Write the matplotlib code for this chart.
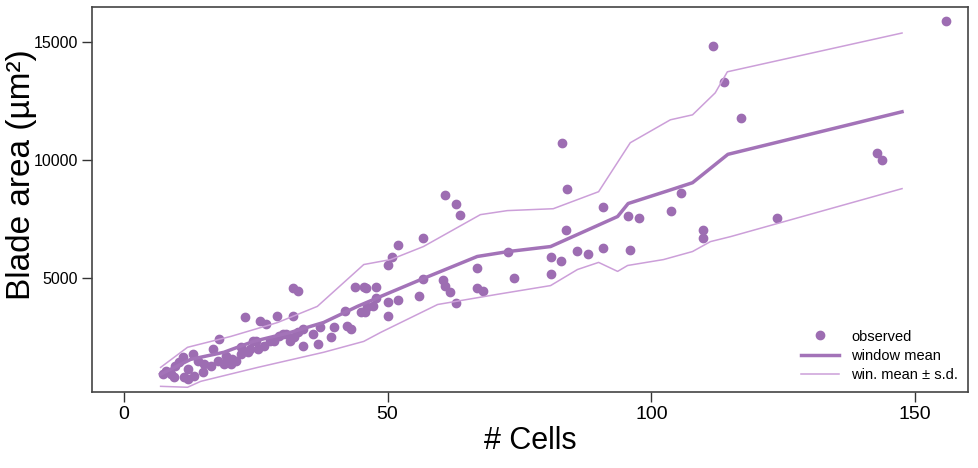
import matplotlib
matplotlib.use('Agg')
import matplotlib.pyplot as plt
import numpy as np

plt.rcParams['font.family'] = ['Liberation Sans', 'DejaVu Sans']

# observed leaves: number of cells vs blade area
cells = [155.9, 111.7, 113.8, 116.9, 142.8, 143.7,
         83.0, 84.0, 60.8, 62.9, 63.8, 90.9,
         105.7, 103.8, 97.7, 95.6, 109.8, 109.8, 123.9, 96.0,
         83.9, 72.9, 81.0, 82.8, 86.0, 87.9, 90.9, 73.9, 81.0,
         56.8, 51.9, 50.9, 50.0, 66.9, 56.8, 60.6, 60.8, 61.9, 66.9, 68.0,
         46.0, 47.9, 47.9, 50.0, 51.9, 56.0, 63.0, 47.2, 45.8, 50.0,
         32.0, 33.0, 43.9, 45.5, 22.9, 25.9, 26.9, 29.0, 32.0, 42.0, 44.9, 46.2,
         42.4, 43.0, 30.1, 33.9, 32.2, 37.3, 39.8, 39.2, 35.8, 33.9, 36.9,
         24.6, 27.8, 25.4, 23.5, 22.2,
         18.0, 17.0, 11.2, 13.1, 8.0, 8.9, 9.8, 11.4, 12.1, 14.0, 15.2, 16.5,
         17.8, 19.0, 20.6, 22.2, 24.0, 25.0, 26.5, 28.4, 29.4, 30.7, 31.6, 33.0,
         9.5, 13.3, 15.0, 20.3, 21.2, 12.1, 7.4, 10.4, 19.3]
area = [15890, 14830, 13310, 11790, 10320, 10020,
        10740, 8800, 8545, 8165, 7700, 8040,
        8630, 7870, 7570, 7660, 7070, 6730, 7570, 6220,
        7030, 6140, 5890, 5760, 6180, 6055, 6310, 5000, 5210,
        6730, 6435, 5890, 5550, 5460, 4960, 4920, 4700, 4410, 4580, 4450,
        4580, 4660, 4160, 3990, 4070, 4280, 3945, 3820, 3565, 3400,
        4580, 4450, 4620, 4620, 3354, 3185, 3060, 3396, 3396, 3607, 3565, 3776,
        2974, 2848, 2637, 2848, 2510, 2932, 2932, 2510, 2637, 2130, 2215,
        2341, 2341, 2004, 1877, 2088,
        2425, 2004, 1666, 1792, 1075, 949, 1286, 822, 1160, 1497, 1370, 1286,
        1497, 1370, 1582, 1792, 2004, 2341, 2130, 2341, 2552, 2637, 2341, 2721,
        822, 864, 1033, 1370, 1497, 738, 949, 1455, 1708]

# window mean and +/- s.d.
mean_x = [7, 12.7, 19, 24.6, 31.6, 37.9, 44.3, 48.7, 56.8, 67, 72.9, 80.9, 86,
          93.6, 95.6, 103, 107.8, 114.5, 147.5]
mean_y = [950, 1580, 1880, 2340, 2720, 3140, 3820, 4240, 5000, 5930, 6140, 6350, 6860,
          7620, 8170, 8700, 9050, 10250, 12050]
upper_x = [7, 12.1, 20.3, 29.2, 36.7, 45.5, 50.6, 56.8, 67.6, 72.7, 81.4, 90, 96,
           103.6, 107.8, 112.1, 114.4, 147.5]
upper_y = [1240, 2090, 2550, 3140, 3820, 5590, 5800, 6350, 7700, 7870, 7950, 8670, 10740,
           11710, 11920, 12850, 13740, 15380]
lower_x = [7, 12.1, 14.6, 25.4, 37.9, 45.5, 48.7, 59.5, 70.8, 80.9, 86, 90, 93.6,
           95.5, 102.3, 107.8, 111.2, 115, 147.5]
lower_y = [440, 400, 650, 1240, 1880, 2340, 2720, 3900, 4330, 4700, 5380, 5680, 5300,
           5550, 5800, 6140, 6560, 6770, 8800]

pt_col = '#9d6db2'
mean_col = '#a373b8'
sd_col = '#cc9fd9'

fig = plt.figure(figsize=(9.79, 4.68), dpi=100)
ax = fig.add_axes([92/979, 1-392/468, (968-92)/979, (392-7)/468])

ax.plot(cells, area, 'o', color=pt_col, ms=6, mec=pt_col, label='observed')
ax.plot(mean_x, mean_y, color=mean_col, lw=2.5, label='window mean')
ax.plot(upper_x, upper_y, color=sd_col, lw=1.1, label='win. mean \u00b1 s.d.')
ax.plot(lower_x, lower_y, color=sd_col, lw=1.1)

ax.set_xlim(-6, 160)
ax.set_ylim(200, 16480)
ax.set_xticks([0, 50, 100, 150])
ax.set_yticks([5000, 10000, 15000])
ax.tick_params(axis='x', labelsize=14, length=7, width=1, color='#333333', pad=3)
ax.tick_params(axis='y', labelsize=11.5, length=7, width=1, color='#333333', pad=3)
for s in ax.spines.values():
    s.set_color('#444444')
    s.set_linewidth(1.2)

ax.set_xlabel('# Cells', fontsize=22, labelpad=2)
ax.set_ylabel('Blade area (\u00b5m\u00b2)', fontsize=24)
ax.yaxis.set_label_coords(-0.063, 0.565)

ax.legend(loc='lower right', frameon=False, fontsize=10.5, handlelength=2.6,
          labelspacing=0.35, borderaxespad=0.3)

fig.savefig('out.png', dpi=100)
